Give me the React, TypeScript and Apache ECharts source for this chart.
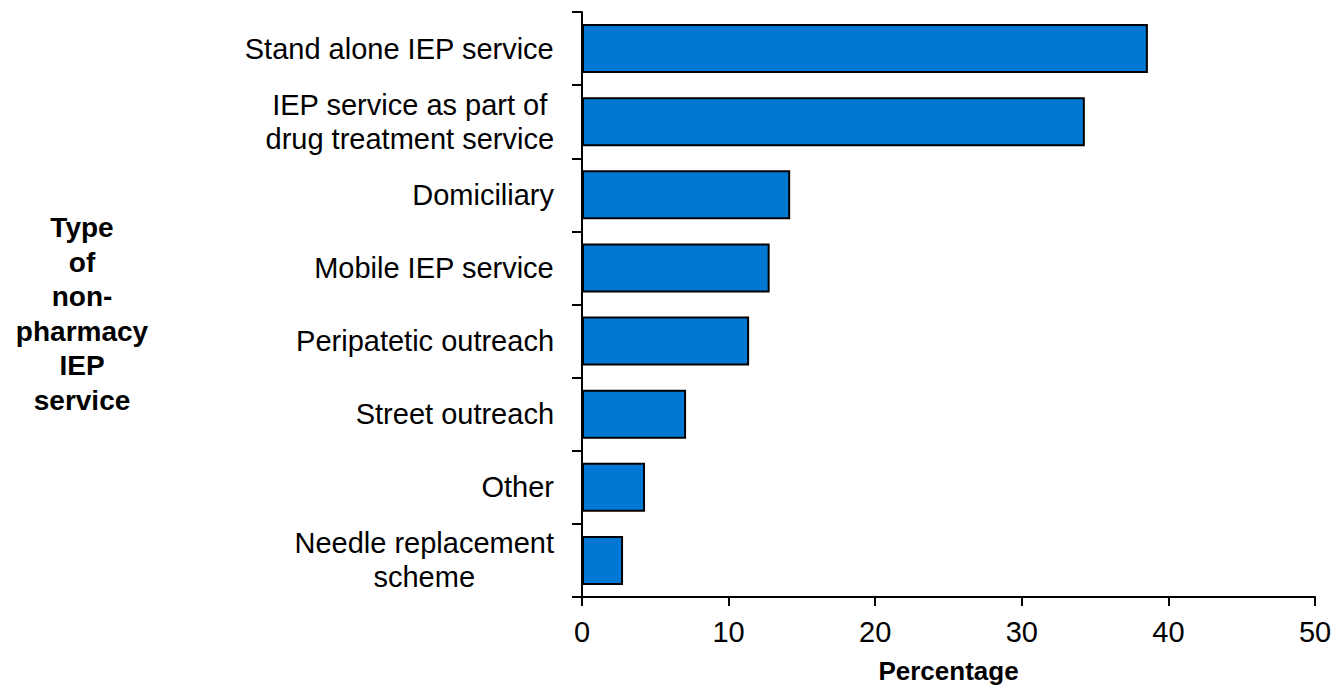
import { useEffect, useRef } from 'react';
import * as echarts from 'echarts';

const categories: string[] = [
  'Stand alone IEP service',
  'IEP service as part of\ndrug treatment service',
  'Domiciliary',
  'Mobile IEP service',
  'Peripatetic outreach',
  'Street outreach',
  'Other',
  'Needle replacement\nscheme',
];
const values: number[] = [38.6, 34.3, 14.2, 12.8, 11.4, 7.1, 4.3, 2.8];
const xMin = 0;
const xMax = 50;
const xInterval = 10;
const xAxisTitle = 'Percentage';
const yTitleLines: string[] = ['Type', 'of', 'non-', 'pharmacy', 'IEP', 'service'];

const FONT = '"Liberation Sans", Arial, sans-serif';

export default function App() {
  const ref = useRef<HTMLDivElement>(null);
  useEffect(() => {
    if (!ref.current) return;
    const chart = echarts.init(ref.current, undefined, { renderer: 'svg' });
    chart.setOption({
      animation: false,
      backgroundColor: '#ffffff',
      grid: { left: 582, right: 28, top: 12, bottom: 94, containLabel: false },
      xAxis: {
        type: 'value',
        min: xMin,
        max: xMax,
        interval: xInterval,
        name: xAxisTitle,
        nameLocation: 'middle',
        nameGap: 61,
        nameTextStyle: { fontFamily: FONT, fontSize: 26, fontWeight: 'bold', color: '#000' },
        axisLine: { show: true, lineStyle: { color: '#000', width: 2 } },
        axisTick: { show: true, length: 9, lineStyle: { color: '#000', width: 2 } },
        axisLabel: { fontFamily: FONT, fontSize: 29, color: '#000', margin: 20 },
        splitLine: { show: false },
      },
      yAxis: {
        type: 'category',
        inverse: true,
        data: categories,
        axisLine: { show: true, lineStyle: { color: '#000', width: 2 } },
        axisTick: { show: true, length: 10, alignWithLabel: false, lineStyle: { color: '#000', width: 2 } },
        axisLabel: {
          margin: 28,
          color: '#000',
          fontFamily: FONT,
          fontSize: 29,
          lineHeight: 34,
          formatter: (v: string) => v.split('\n').map((l) => `{c|${l}}`).join('\n'),
          rich: {
            c: { align: 'center', fontFamily: FONT, fontSize: 29, lineHeight: 34, color: '#000' },
          },
        },
        splitLine: { show: false },
      },
      graphic: [
        {
          type: 'text',
          x: 82,
          y: 314,
          style: {
            text: yTitleLines.join('\n'),
            fontFamily: FONT,
            fontSize: 28,
            fontWeight: 'bold',
            lineHeight: 34.5,
            fill: '#000',
            align: 'center',
            verticalAlign: 'middle',
          },
        },
      ],
      series: [
        {
          type: 'bar',
          data: values,
          barWidth: '67%',
          itemStyle: { color: '#0078D4', borderColor: '#000', borderWidth: 2 },
        },
      ],
    });
    return () => chart.dispose();
  }, []);
  return <div ref={ref} style={{ position: 'fixed', left: 0, top: 0, width: 1343, height: 691 }} />;
}
